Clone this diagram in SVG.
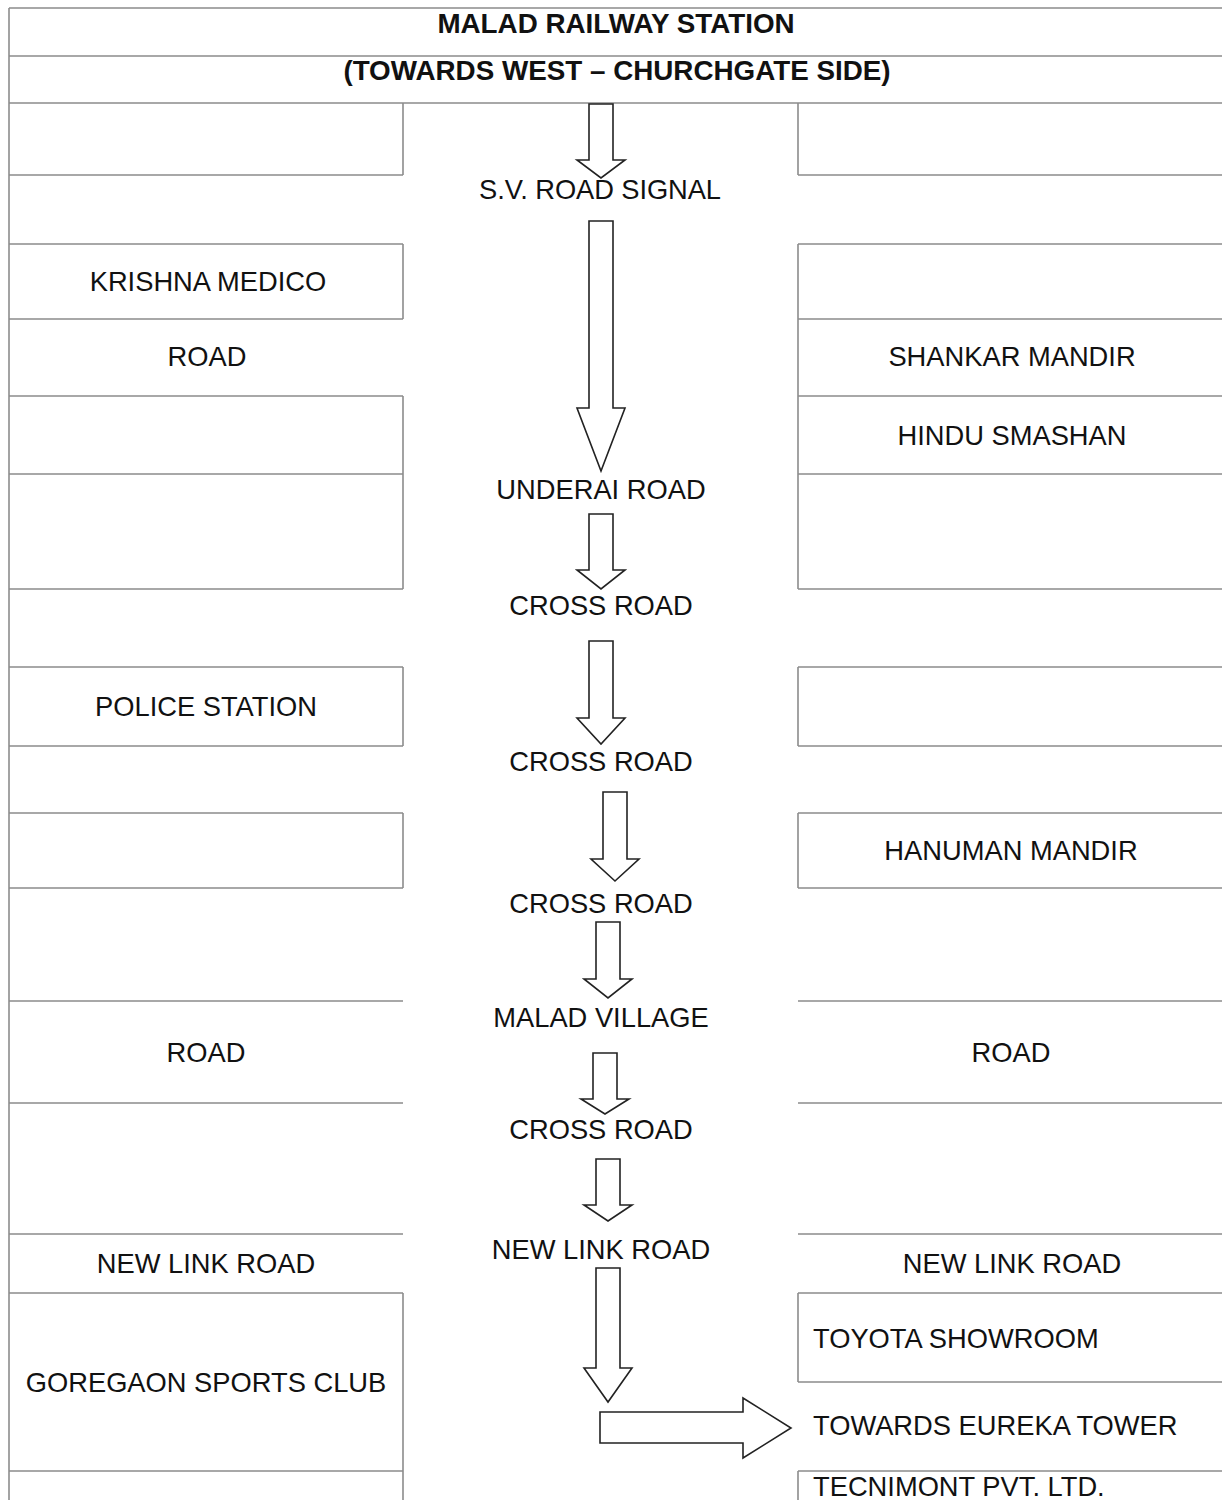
<svg xmlns="http://www.w3.org/2000/svg" width="1222" height="1500" viewBox="0 0 1222 1500">
<style>
.grid{stroke:#8c8c8c;stroke-width:1.6;fill:none}
.arr{fill:#fff;stroke:#222;stroke-width:1.6;stroke-linejoin:miter}
.t{font-family:"Liberation Sans",Arial,sans-serif;font-size:27.3px;fill:#111;text-anchor:middle}
.tl{text-anchor:start}
.b{font-weight:bold;font-size:27.8px}
</style>
<rect x="0" y="0" width="1222" height="1500" fill="#fff"/>
<g id="table" class="grid">
<path d="M9 8H1222M9 56H1222M9 103H1222"/>
<path d="M9 8V1500"/>
<path d="M9 175H403M9 244H403M9 319H403M9 396H403M9 474H403M9 589H403M9 667H403M9 746H403M9 813H403M9 888H403M9 1001H403M9 1103H403M9 1234H403M9 1293H403M9 1471H403"/>
<path d="M798 175H1222M798 244H1222M798 319H1222M798 396H1222M798 474H1222M798 589H1222M798 667H1222M798 746H1222M798 813H1222M798 888H1222M798 1001H1222M798 1103H1222M798 1234H1222M798 1293H1222M798 1382H1222M798 1471H1222"/>
<path d="M403 103V175M403 244V319M403 396V589M403 667V746M403 813V888M403 1293V1500"/>
<path d="M798 103V175M798 244V589M798 667V746M798 813V888M798 1293V1382M798 1471V1500"/>
</g>
<g id="title"><text class="t b" x="616" y="33">MALAD RAILWAY STATION</text></g>
<g id="subtitle"><text class="t b" x="617" y="80">(TOWARDS WEST – CHURCHGATE SIDE)</text></g>
<g id="sv-road-signal"><text class="t" x="600" y="199" textLength="242" lengthAdjust="spacing">S.V. ROAD SIGNAL</text></g>
<g id="krishna-medico"><text class="t" x="208" y="291">KRISHNA MEDICO</text></g>
<g id="road-left-1"><text class="t" x="207" y="366">ROAD</text></g>
<g id="shankar-mandir"><text class="t" x="1012" y="366">SHANKAR MANDIR</text></g>
<g id="hindu-smashan"><text class="t" x="1012" y="445">HINDU SMASHAN</text></g>
<g id="underai-road"><text class="t" x="601" y="499">UNDERAI ROAD</text></g>
<g id="cross-road-1"><text class="t" x="601" y="615">CROSS ROAD</text></g>
<g id="police-station"><text class="t" x="206" y="716">POLICE STATION</text></g>
<g id="cross-road-2"><text class="t" x="601" y="771">CROSS ROAD</text></g>
<g id="hanuman-mandir"><text class="t" x="1011" y="860">HANUMAN MANDIR</text></g>
<g id="cross-road-3"><text class="t" x="601" y="913">CROSS ROAD</text></g>
<g id="malad-village"><text class="t" x="601" y="1027">MALAD VILLAGE</text></g>
<g id="road-left-2"><text class="t" x="206" y="1062">ROAD</text></g>
<g id="road-right"><text class="t" x="1011" y="1062">ROAD</text></g>
<g id="cross-road-4"><text class="t" x="601" y="1139">CROSS ROAD</text></g>
<g id="new-link-road-mid"><text class="t" x="601" y="1259">NEW LINK ROAD</text></g>
<g id="new-link-road-left"><text class="t" x="206" y="1273">NEW LINK ROAD</text></g>
<g id="new-link-road-right"><text class="t" x="1012" y="1273">NEW LINK ROAD</text></g>
<g id="toyota-showroom"><text class="t tl" x="813" y="1348">TOYOTA SHOWROOM</text></g>
<g id="goregaon-sports-club"><text class="t" x="206" y="1392">GOREGAON SPORTS CLUB</text></g>
<g id="towards-eureka-tower"><text class="t tl" x="813" y="1435">TOWARDS EUREKA TOWER</text></g>
<g id="tecnimont"><text class="t tl" x="813" y="1496">TECNIMONT PVT. LTD.</text></g>
<g id="connectors" class="arr">
<polygon points="589,104 613,104 613,160 625,160 601,178 577,160 589,160"/>
<polygon points="589,221 613,221 613,408 625,408 601,471 577,408 589,408"/>
<polygon points="589,514 613,514 613,570 625,570 601,589 577,570 589,570"/>
<polygon points="589,641 613,641 613,718 625,718 601,744 577,718 589,718"/>
<polygon points="603,792 627,792 627,859 639,859 615,881 591,859 603,859"/>
<polygon points="596,922 620,922 620,979 632,979 608,998 584,979 596,979"/>
<polygon points="593,1053 617,1053 617,1099 629,1099 605,1114 581,1099 593,1099"/>
<polygon points="596,1159 620,1159 620,1205 632,1205 608,1221 584,1205 596,1205"/>
<polygon points="596,1268 620,1268 620,1368 632,1368 608,1402 584,1368 596,1368"/>
<polygon points="600,1412 743,1412 743,1398 791,1428 743,1458 743,1443 600,1443"/>
</g>
</svg>
